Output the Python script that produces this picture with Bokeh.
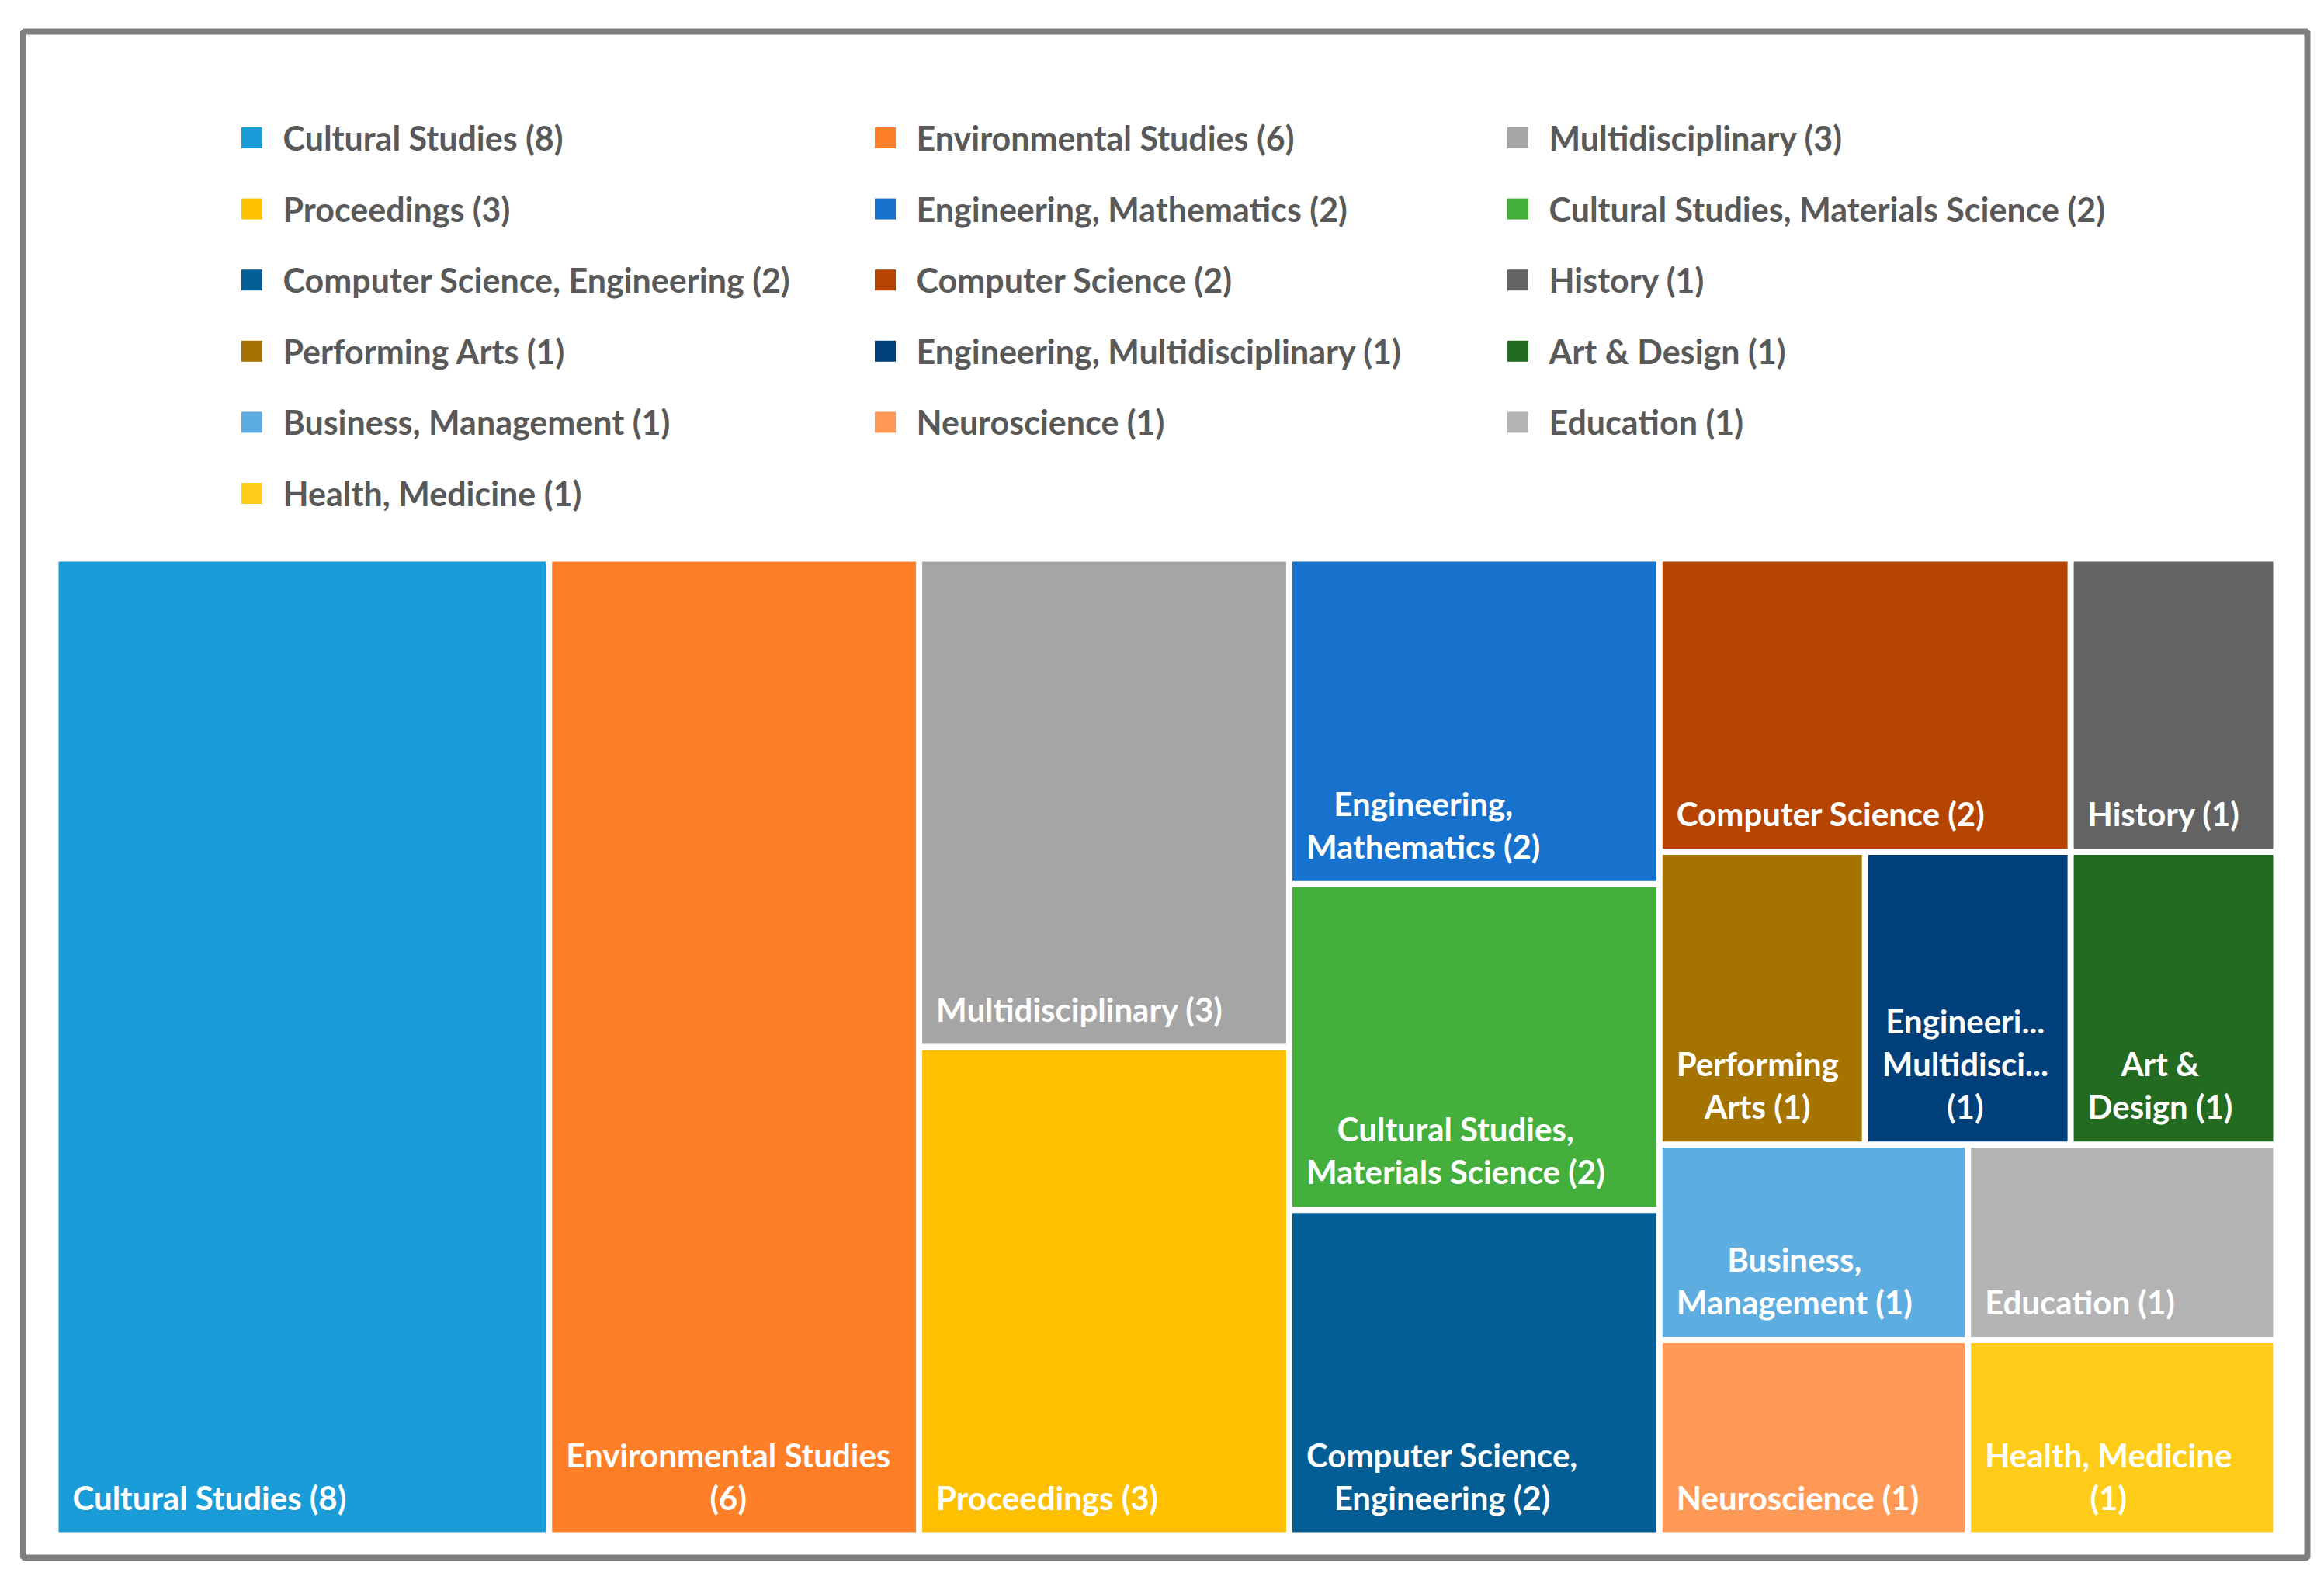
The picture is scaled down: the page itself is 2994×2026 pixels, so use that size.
from bokeh.plotting import figure
from bokeh.models import Range1d, ColumnDataSource
from bokeh.core.properties import value
from bokeh.embed import file_html
from bokeh.resources import INLINE

# ---- data ----
names = ["Cultural Studies", "Environmental Studies", "Multidisciplinary", "Proceedings",
         "Engineering, Mathematics", "Cultural Studies, Materials Science",
         "Computer Science, Engineering", "Computer Science", "History", "Performing Arts",
         "Engineering, Multidisciplinary", "Art & Design", "Business, Management",
         "Neuroscience", "Education", "Health, Medicine"]
counts = [8, 6, 3, 3, 2, 2, 2, 2, 1, 1, 1, 1, 1, 1, 1, 1]
colors = ["#1A9CD8", "#FE7F27", "#A5A5A5", "#FFC000", "#1672CC", "#44AF3C",
          "#045E96", "#B54400", "#636363", "#A57300", "#00407A", "#246B22",
          "#5DADE0", "#FF9955", "#B4B4B4", "#FFCC19"]
tile_labels = ["Cultural Studies (8)", "Environmental Studies\n(6)", "Multidisciplinary (3)",
               "Proceedings (3)", "Engineering,\nMathematics (2)",
               "Cultural Studies,\nMaterials Science (2)", "Computer Science,\nEngineering (2)",
               "Computer Science (2)", "History (1)", "Performing\nArts (1)",
               "Engineeri...\nMultidisci...\n(1)", "Art &\nDesign (1)",
               "Business,\nManagement (1)", "Neuroscience (1)", "Education (1)",
               "Health, Medicine\n(1)"]
# nesting of the treemap (indices into the lists above); levels alternate x / y splits
tree = [0, 1, [2, 3], [4, 5, 6], [[7, 8], [9, 10, 11], [[12, 13], [14, 15]]]]

# ---- layout constants (page pixels) ----
W, H = 2978, 2010
X0, X1, Y0, Y1 = 71, 2932, 719, 1977
GAP = 8

def total(node):
    return counts[node] if isinstance(node, int) else sum(total(c) for c in node)

rects = {}
def lay(node, x0, y0, x1, y1, depth):
    if isinstance(node, int):
        rects[node] = (x0, y0, x1, y1)
        return
    t = total(node)
    pos = x0 if depth % 2 == 0 else y0
    for c in node:
        frac = total(c) / t
        if depth % 2 == 0:
            w = (x1 - x0) * frac
            lay(c, pos, y0, pos + w, y1, depth + 1)
            pos += w
        else:
            h = (y1 - y0) * frac
            lay(c, x0, pos, x1, pos + h, depth + 1)
            pos += h

lay(tree, X0, Y0, X1, Y1, 0)
idx = list(range(len(names)))
L = [rects[i][0] + GAP / 2 for i in idx]
R = [rects[i][2] - GAP / 2 for i in idx]
T = [rects[i][1] + GAP / 2 for i in idx]
B = [rects[i][3] - GAP / 2 for i in idx]

p = figure(width=W, height=H, x_range=Range1d(0, W), y_range=Range1d(H, 0),
           output_backend="svg", toolbar_location=None, min_border=0,
           x_axis_location=None, y_axis_location=None)
p.grid.visible = False
p.outline_line_color = None
p.background_fill_color = "white"

# outer frame
p.quad(left=[29.5], right=[2972], top=[40], bottom=[2006], fill_color=None,
       line_color="#7F7F7F", line_width=8)

FONT = value("Lato")
src = ColumnDataSource(dict(l=L, r=R, t=T, b=B, c=colors,
                            lx=[v + 18 for v in L], ly=[v - 20 for v in B], lab=tile_labels))
p.quad(left="l", right="r", top="t", bottom="b", fill_color="c", line_color=None, source=src)
p.text(x="lx", y="ly", text="lab", source=src, text_color="white",
       text_font=FONT, text_font_size="42px", text_font_style="bold",
       anchor="bottom_left", text_align="center", text_line_height=1.1)

# legend (3 columns, row-major)
COLX = [324, 1140, 1955]
ROW0, ROWSTEP = 177, 91.6
mx = [COLX[i % 3] for i in idx]
my = [ROW0 + (i // 3) * ROWSTEP for i in idx]
leg = ColumnDataSource(dict(x=mx, y=my, tx=[v + 40 for v in mx], c=colors,
                            lab=[f"{n} ({c})" for n, c in zip(names, counts)]))
p.rect(x="x", y="y", width=27, height=27, fill_color="c", line_color=None, source=leg)
p.text(x="tx", y="y", text="lab", source=leg, text_color="#595959",
       text_font=FONT, text_font_size="43px", text_font_style="bold",
       text_baseline="middle", text_align="left")

open("out.html", "w").write(file_html(p, INLINE))
